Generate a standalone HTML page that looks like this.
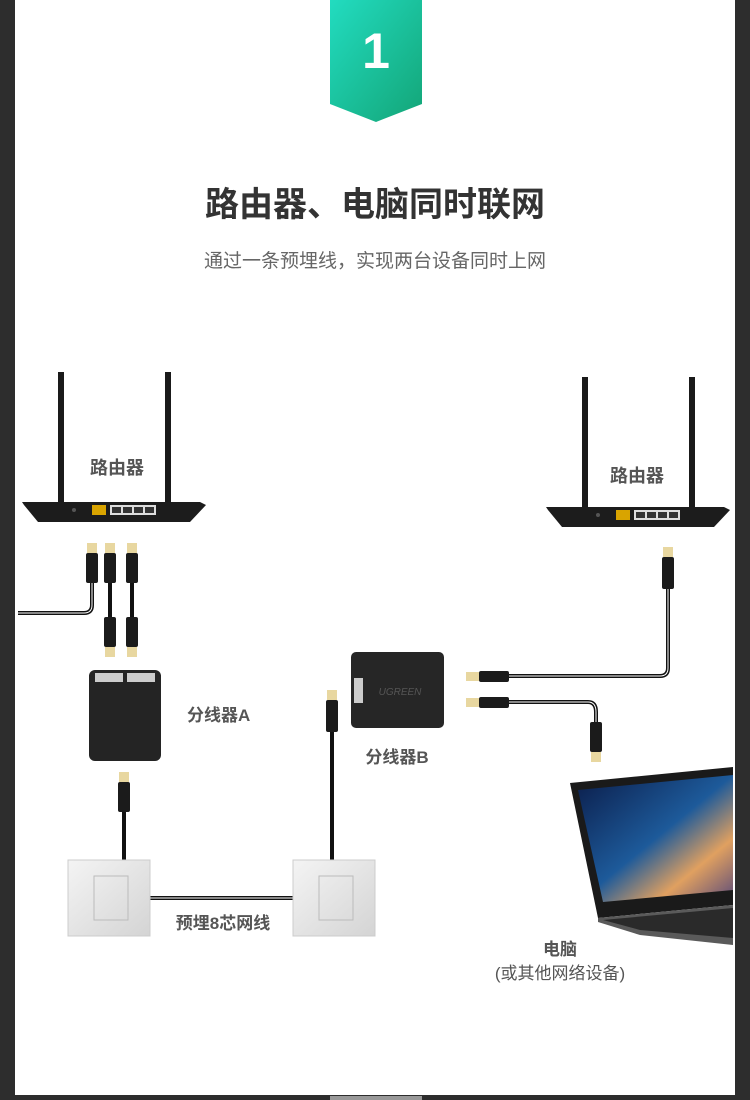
<!DOCTYPE html>
<html><head><meta charset="utf-8"><style>
html,body{margin:0;padding:0;background:#2d2d2d;}
#p{position:relative;width:750px;height:1100px;overflow:hidden;background:#2d2d2d;font-family:"Liberation Sans","Noto Sans CJK SC",sans-serif;}
</style></head><body><div id="p">
<svg width="750" height="1100" viewBox="0 0 750 1100" xmlns="http://www.w3.org/2000/svg" style="position:absolute;left:0;top:0">
<defs>
<linearGradient id="g" x1="0" y1="0" x2="1" y2="1"><stop offset="0" stop-color="#22dcc0"/><stop offset="1" stop-color="#13a577"/></linearGradient>
<linearGradient id="scr" x1="0" y1="0" x2="1" y2="1"><stop offset="0" stop-color="#0b1d4a"/><stop offset="0.5" stop-color="#1d5a9a"/><stop offset="0.75" stop-color="#e0a060"/><stop offset="1" stop-color="#5a4a7a"/></linearGradient>
<linearGradient id="plate" x1="0" y1="0" x2="1" y2="1"><stop offset="0" stop-color="#f4f4f4"/><stop offset="1" stop-color="#d4d4d4"/></linearGradient>
</defs>
<rect x="15" y="0" width="720" height="1095" fill="#fff"/>
<rect x="330" y="1096" width="92" height="4" fill="#999"/>
<polygon points="330,0 422,0 422,104 376,122 330,104" fill="url(#g)"/>
<text x="376" y="68" font-size="50" fill="#fff" text-anchor="middle" font-weight="bold" font-family="Liberation Sans,sans-serif">1</text>
<text x="375" y="216" font-size="34" fill="#333" text-anchor="middle" font-weight="bold">路由器、电脑同时联网</text>
<text x="375" y="267" font-size="19" fill="#666" text-anchor="middle">通过一条预埋线，实现两台设备同时上网</text>

<g>
<rect x="58" y="372" width="6" height="150" fill="#1a1a1a"/>
<rect x="165" y="372" width="6" height="150" fill="#1a1a1a"/>
<polygon points="22,502 200,502 206,505 190,522 38,522 24,505" fill="#1c1c1c"/>
<rect x="92" y="505" width="14" height="10" fill="#d9a400"/>
<rect x="110" y="505" width="46" height="10" fill="#ddd"/>
<rect x="112" y="507" width="9" height="6" fill="#333"/><rect x="123" y="507" width="9" height="6" fill="#333"/><rect x="134" y="507" width="9" height="6" fill="#333"/><rect x="145" y="507" width="9" height="6" fill="#333"/>
<circle cx="74" cy="510" r="2" fill="#555"/>
</g>
<text x="117" y="474" font-size="18" fill="#555" text-anchor="middle" font-weight="bold">路由器</text>
<g transform="translate(524,5)">
<rect x="58" y="372" width="6" height="150" fill="#1a1a1a"/>
<rect x="165" y="372" width="6" height="150" fill="#1a1a1a"/>
<polygon points="22,502 200,502 206,505 190,522 38,522 24,505" fill="#1c1c1c"/>
<rect x="92" y="505" width="14" height="10" fill="#d9a400"/>
<rect x="110" y="505" width="46" height="10" fill="#ddd"/>
<rect x="112" y="507" width="9" height="6" fill="#333"/><rect x="123" y="507" width="9" height="6" fill="#333"/><rect x="134" y="507" width="9" height="6" fill="#333"/><rect x="145" y="507" width="9" height="6" fill="#333"/>
<circle cx="74" cy="510" r="2" fill="#555"/>
</g>
<text x="637" y="482" font-size="18" fill="#555" text-anchor="middle" font-weight="bold">路由器</text>

<g stroke="#111" fill="none" stroke-width="4">
<path d="M18,613 H84 Q92,613 92,605 V580"/>
<path d="M110,580 V620"/><path d="M132,580 V620"/>
<path d="M124,810 V862"/>
<path d="M150,898 H295"/>
<path d="M332,862 V730"/>
<path d="M505,676 H660 Q668,676 668,668 V585"/>
<path d="M505,702 H588 Q596,702 596,712 V725"/>
</g>
<g stroke="#fff" fill="none" stroke-width="1">
<path d="M18,613 H84 Q92,613 92,605 V580"/><path d="M150,898 H295"/><path d="M505,676 H660 Q668,676 668,668 V585"/><path d="M505,702 H588 Q596,702 596,712 V725"/>
</g>
<g fill="#1b1b1b">
<rect x="86" y="553" width="12" height="30" rx="2"/><rect x="104" y="553" width="12" height="30" rx="2"/><rect x="126" y="553" width="12" height="30" rx="2"/>
<rect x="104" y="617" width="12" height="30" rx="2"/><rect x="126" y="617" width="12" height="30" rx="2"/>
<rect x="118" y="782" width="12" height="30" rx="2"/>
<rect x="326" y="700" width="12" height="32" rx="2"/>
<rect x="662" y="557" width="12" height="32" rx="2"/>
<rect x="590" y="722" width="12" height="30" rx="2"/>
<rect x="479" y="671" width="30" height="11" rx="2"/>
<rect x="479" y="697" width="30" height="11" rx="2"/>
</g>
<g fill="#e8d7a0">
<rect x="87" y="543" width="10" height="10"/><rect x="105" y="543" width="10" height="10"/><rect x="127" y="543" width="10" height="10"/>
<rect x="105" y="647" width="10" height="10"/><rect x="127" y="647" width="10" height="10"/>
<rect x="119" y="772" width="10" height="10"/><rect x="327" y="690" width="10" height="10"/>
<rect x="663" y="547" width="10" height="10"/><rect x="591" y="752" width="10" height="10"/>
<rect x="466" y="672" width="13" height="9"/><rect x="466" y="698" width="13" height="9"/>
</g>

<rect x="89" y="670" width="72" height="91" rx="6" fill="#242424"/>
<rect x="95" y="673" width="28" height="9" fill="#ccc"/><rect x="127" y="673" width="28" height="9" fill="#ccc"/>
<text x="187" y="721" font-size="17" fill="#555" font-weight="bold">分线器A</text>
<rect x="351" y="652" width="93" height="76" rx="5" fill="#262626"/>
<rect x="354" y="678" width="9" height="25" fill="#ccc"/>
<text x="400" y="695" font-size="10" fill="#555" text-anchor="middle" font-style="italic">UGREEN</text>
<text x="397" y="763" font-size="17" fill="#555" text-anchor="middle" font-weight="bold">分线器B</text>

<rect x="68" y="860" width="82" height="76" fill="url(#plate)" stroke="#ccc"/>
<rect x="94" y="876" width="34" height="44" fill="none" stroke="#bbb"/>
<rect x="293" y="860" width="82" height="76" fill="url(#plate)" stroke="#ccc"/>
<rect x="319" y="876" width="34" height="44" fill="none" stroke="#bbb"/>
<text x="223" y="929" font-size="17" fill="#555" text-anchor="middle" font-weight="bold">预埋8芯网线</text>

<polygon points="570,783 733,767 733,905 598,918" fill="#1a1a1a"/>
<polygon points="578,790 733,775 733,890 603,902" fill="url(#scr)"/>
<polygon points="598,918 733,905 733,945 640,935 598,922" fill="#5a5a5a"/>
<polygon points="603,920 733,908 733,938 640,930" fill="#2a2a2a"/>
<text x="560" y="955" font-size="17" fill="#555" text-anchor="middle" font-weight="bold">电脑</text>
<text x="560" y="979" font-size="17" fill="#555" text-anchor="middle">(或其他网络设备)</text>
</svg>
</div></body></html>
